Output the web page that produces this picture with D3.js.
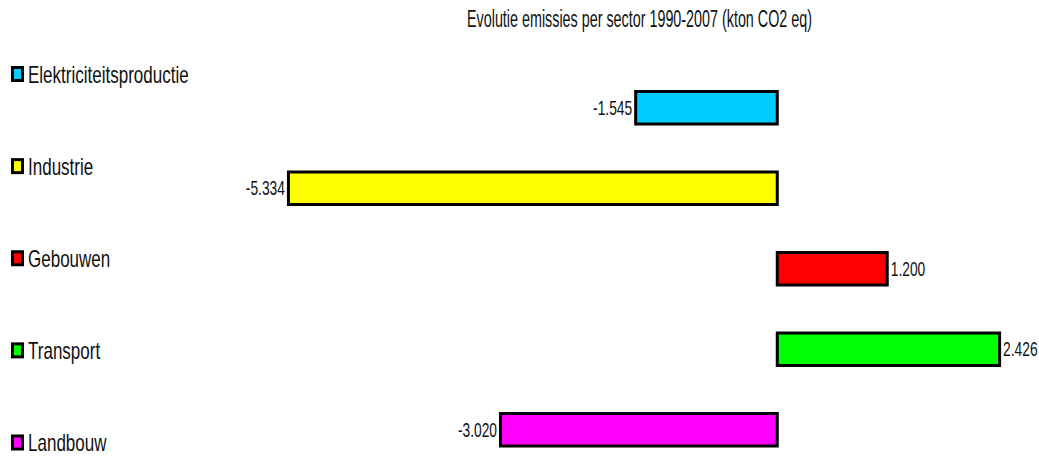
<!DOCTYPE html>
<html>
<head>
<meta charset="utf-8">
<script src="https://cdn.jsdelivr.net/npm/d3@7/dist/d3.min.js"></script>
<style>
  html, body { margin: 0; padding: 0; background: #fff; }
  svg { display: block; }
  text { font-family: "Liberation Sans", Arial, sans-serif; fill: #111; }
</style>
</head>
<body>
<svg id="chart" width="1039" height="457"></svg>
<script>
// Emission change per sector, 1990-2007 (kton CO2 eq)
const sectors = ["Elektriciteitsproductie", "Industrie", "Gebouwen", "Transport", "Landbouw"];
const changes = [-1.545, -5.334, 1.200, 2.426, -3.020];
const valueLabels = ["-1.545", "-5.334", "1.200", "2.426", "-3.020"];
const sectorColors = ["#00CCFF", "#FFFF00", "#FF0000", "#00FF00", "#FF00FF"];
const title = "Evolutie emissies per sector 1990-2007 (kton CO2 eq)";

const svg = d3.select("#chart");

// value axis: zero sits at x = 777, ~91.6 px per kton
const x = d3.scaleLinear().domain([-6, 3]).range([227.4, 1052.2]);
// bar centres
const y = d3.scalePoint().domain(sectors).range([107.75, 429.75]);
const barH = 32.5;
const stroke = 3;

// legend rows (text baselines)
const ly = d3.scalePoint().domain(sectors).range([82.5, 451]);

const color = d3.scaleOrdinal().domain(sectors).range(sectorColors);
const rows = sectors.map((s, i) => ({ sector: s, value: changes[i], label: valueLabels[i] }));

// title
svg.append("text")
  .attr("x", 639.5)
  .attr("y", 26.5)
  .attr("text-anchor", "middle")
  .attr("font-size", 23)
  .attr("textLength", 345)
  .attr("lengthAdjust", "spacingAndGlyphs")
  .text(title);

// bars
svg.append("g").selectAll("rect")
  .data(rows)
  .join("rect")
  .attr("x", d => Math.min(x(0), x(d.value)))
  .attr("width", d => Math.abs(x(d.value) - x(0)))
  .attr("y", d => y(d.sector) - barH / 2)
  .attr("height", barH)
  .attr("fill", d => color(d.sector))
  .attr("stroke", "#000")
  .attr("stroke-width", stroke);

// value labels, condensed like the rest of the text
const sx = 0.69;
svg.append("g").selectAll("text")
  .data(rows)
  .join("text")
  .attr("text-anchor", d => d.value < 0 ? "end" : "start")
  .attr("transform", d => {
    const px = d.value < 0 ? x(d.value) - stroke / 2 - 2 : x(d.value) + stroke / 2 + 2;
    return `translate(${px},${y(d.sector) + 7}) scale(${sx},1)`;
  })
  .attr("font-size", 20)
  .text(d => d.label);

// legend
const legend = svg.append("g").selectAll("g")
  .data(sectors)
  .join("g")
  .attr("transform", d => `translate(0,${ly(d)})`);

legend.append("rect")
  .attr("x", 12.5)
  .attr("y", -15)
  .attr("width", 10)
  .attr("height", 13)
  .attr("fill", d => color(d))
  .attr("stroke", "#000")
  .attr("stroke-width", 3);

legend.append("text")
  .attr("transform", "translate(28,0) scale(0.74,1)")
  .attr("font-size", 23)
  .text(d => d);
</script>
</body>
</html>
